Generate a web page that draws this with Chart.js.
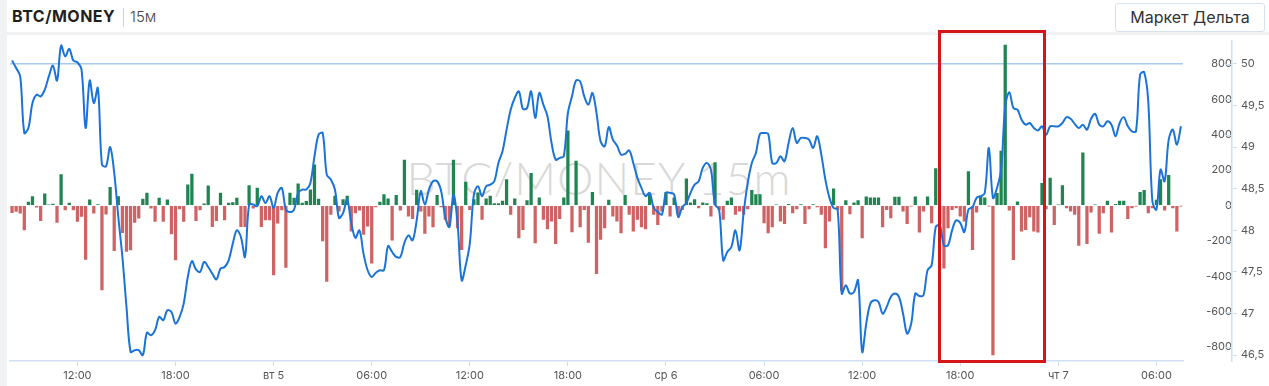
<!DOCTYPE html>
<html lang="ru">
<head>
<meta charset="utf-8">
<title>BTC/MONEY 15м — Маркет Дельта</title>
<script src="https://cdn.jsdelivr.net/npm/chart.js@4.4.1/dist/chart.umd.min.js"></script>
<style>
  html, body { margin: 0; padding: 0; background: #fff; }
  body { width: 1269px; height: 386px; position: relative; overflow: hidden; font-family: Inter, "Open Sans", sans-serif; }
  .strip { position: absolute; left: 0; top: 0; width: 7px; height: 386px; background: #f1f2f4; }
  .header { position: absolute; left: 7px; top: 0; right: 0; height: 32px; border-bottom: 3px solid #f0f1f3; }
  .title { position: absolute; left: 5px; top: 6px; font-size: 16px; font-weight: 700; color: #1f1f1f; letter-spacing: .5px; }
  .sep { position: absolute; left: 116px; top: 8px; width: 1px; height: 19px; background: #cfcfcf; }
  .tf { position: absolute; left: 123px; top: 7px; font-size: 15px; font-weight: 300; color: #444; }
  .btn { position: absolute; left: 1115px; top: 3px; width: 150px; height: 29px; box-sizing: border-box; border: 1px solid #d3e2ee; border-radius: 3px; background: #fff; font-size: 16px; color: #333; text-align: center; line-height: 27px; }
  .wm { position: absolute; left: 402px; top: 150px; width: 394px; text-align: center; font-family: Lato, sans-serif; font-weight: 300; font-size: 46px; letter-spacing: 1px; color: #d9d9d9; z-index: 0; white-space: nowrap; }
  #wrap { position: absolute; left: 0; top: 18px; width: 1269px; height: 368px; z-index: 1; }
  .box { position: absolute; left: 938px; top: 30px; width: 108px; height: 333px; box-sizing: border-box; border: 3px solid #d4161a; z-index: 2; }
</style>
</head>
<body>
<div class="strip"></div>
<div class="header">
  <div class="title">BTC/MONEY</div>
  <div class="sep"></div>
  <div class="tf">15м</div>
</div>
<div class="btn">Маркет Дельта</div>
<div class="wm">BTC/MONEY 15m</div>
<div id="wrap"><canvas id="chart" width="1269" height="368"></canvas></div>
<div class="box"></div>

<script>
// —— данные: 15-минутные свечи, с 08:00 пн 4 до 07:30 чт 7 ——
const startHour = 8;
const stepMinutes = 15;
const dayLabels = ['пн 4', 'вт 5', 'ср 6', 'чт 7'];

// дельта (столбики), по одной на свечу
const deltaValues = [
  -40, -34, -43, -138, 19, 51, -9, -85, 66, 4, 8, -96, 174, -25, 13, -25, -90, -62, -304, 32,
  -43, 5, -477, -49, 102, -255, 51, -153, -260, -251, -96, -72, 36, 70, -15, -90, 42, -90, 32, -160,
  -307, -19, -90, 117, 177, -85, -25, 9, 111, -119, -85, 70, -81, 13, 17, 42, -119, -119, 113, -15,
  98, -119, -81, -81, -392, -100, -25, -349, 70, 42, 123, 13, 23, 89, 230, 36, -200, -428, -50, 53,
  -32, 34, 53, -145, -42, -26, -164, -117, -326, -8, 19, 62, 38, -196, 57, -26, 257, -60, -74, 87,
  -32, -158, -60, -121, 57, -8, -79, -117, 257, -126, -249, 132, -23, 34, 72, -79, 38, 53, 11, 11,
  25, 147, -51, 38, -183, -136, 28, 181, -211, 43, -79, -132, -89, -215, -75, 43, 421, -149, 251, -121,
  -23, -208, 75, -385, -192, -126, 30, -60, -89, -155, 57, -51, -145, -79, -121, -132, 62, -51, -108, -32,
  75, -60, 43, -51, -23, 151, 15, 34, -13, 15, 11, -60, 242, -23, -79, 25, 43, -51, -32, -51,
  -19, 85, 62, 62, -98, -155, -121, 4, -89, -102, 6, -42, -19, 5, -102, -19, 5, -8, -51, -240,
  -89, 94, -23, -480, 28, -47, 15, 28, -183, 49, 43, 43, 43, -121, -23, -70, 47, 47, -32, -102,
  -4, 49, -151, -32, 49, -98, 208, -102, -354, -126, -23, -13, -60, -89, 191, -249, -38, 53, 43, -4,
  -843, 68, 307, 906, -26, -306, 21, -145, -136, -64, -145, -151, 125, -20, 155, -108, 4, 113, -13, -32,
  -51, -226, 298, -215, -38, 4, -158, -42, 25, -151, 6, 25, 25, -75, -13, -4, 75, 85, -42, -13,
  30, 147, -26, 170, -13, -145, -4
];

// цена (линия)
const priceValues = [
  50.04, 49.95, 49.85, 49.17, 49.23, 49.53, 49.63, 49.61, 49.69, 49.85, 49.98, 49.80, 50.22, 50.09, 50.18, 50.04, 50.02, 49.93, 49.23, 49.80,
  49.53, 49.71, 48.79, 48.77, 49.00, 48.69, 48.16, 47.68, 47.08, 46.54, 46.56, 46.56, 46.50, 46.77, 46.74, 46.80, 46.96, 46.92, 47.04, 47.02,
  46.88, 46.96, 47.12, 47.44, 47.63, 47.53, 47.50, 47.62, 47.56, 47.48, 47.41, 47.54, 47.56, 47.64, 47.84, 48.00, 47.92, 47.68, 48.31, 48.31,
  48.29, 48.41, 48.33, 48.41, 48.27, 48.45, 48.51, 48.25, 48.22, 48.25, 48.45, 48.49, 48.49, 48.57, 48.89, 49.15, 49.17, 48.67, 48.61, 48.49,
  48.15, 48.21, 48.37, 48.09, 47.91, 48.00, 47.72, 47.52, 47.44, 47.49, 47.52, 47.52, 47.81, 47.74, 47.68, 47.68, 47.85, 47.94, 47.88, 48.12,
  48.47, 48.31, 48.49, 48.59, 48.59, 48.47, 48.16, 48.04, 48.43, 48.09, 47.40, 47.58, 47.84, 48.43, 48.53, 48.41, 48.53, 48.55, 48.59, 48.81,
  48.95, 49.21, 49.45, 49.59, 49.67, 49.46, 49.47, 49.67, 49.35, 49.65, 49.51, 49.37, 49.05, 48.85, 48.87, 48.89, 49.41, 49.61, 49.80, 49.79,
  49.61, 49.51, 49.65, 49.41, 49.07, 49.01, 49.24, 49.09, 49.02, 48.91, 48.92, 48.96, 48.81, 48.63, 48.51, 48.41, 48.45, 48.27, 48.22, 48.19,
  48.45, 48.45, 48.43, 48.16, 48.28, 48.33, 48.45, 48.55, 48.59, 48.75, 48.81, 48.73, 48.31, 48.25, 47.64, 47.74, 47.80, 48.00, 47.76, 48.21,
  48.57, 48.81, 48.93, 49.16, 49.17, 49.16, 48.81, 48.81, 48.89, 48.83, 49.05, 49.23, 49.05, 49.11, 49.11, 49.09, 48.99, 49.13, 48.91, 48.61,
  48.39, 48.27, 48.25, 47.24, 47.34, 47.24, 47.26, 47.40, 46.54, 46.88, 47.12, 47.16, 47.14, 47.00, 47.08, 47.20, 47.24, 47.20, 47.00, 46.76,
  46.88, 47.24, 47.21, 47.22, 47.52, 47.58, 48.04, 48.06, 47.82, 47.82, 48.00, 48.12, 48.09, 47.98, 48.25, 48.28, 48.39, 48.41, 48.45, 48.99,
  48.39, 48.51, 48.73, 49.49, 49.66, 49.47, 49.45, 49.33, 49.27, 49.29, 49.23, 49.20, 49.25, 49.15, 49.25, 49.25, 49.25, 49.29, 49.36, 49.34,
  49.28, 49.23, 49.27, 49.21, 49.34, 49.40, 49.27, 49.25, 49.31, 49.27, 49.13, 49.29, 49.36, 49.25, 49.19, 49.19, 49.87, 49.90, 49.55, 48.35,
  48.25, 48.73, 48.59, 49.09, 49.21, 49.03, 49.25
];

// подписи осей
const xTickEvery = 24;          // каждые 6 часов
const xFirstTick = 16;          // 12:00 пн
const deltaTicks = [-800, -600, -400, -200, 0, 200, 400, 600, 800];
const priceTicks = [46.5, 47, 47.5, 48, 48.5, 49, 49.5, 50];
const levelValue = 800;         // горизонтальный уровень

const deltaMin = -878, deltaMax = 931;
const priceMin = 46.43, priceMax = 50.28;

const GREEN = '#1f8450';
const RED = '#cf6363';
const AXIS = '#cfe1f1';

// категории: время свечи, полночь = день недели
const categories = deltaValues.map((_, i) => {
  const total = startHour * 60 + i * stepMinutes;
  const day = Math.floor(total / 1440);
  const h = Math.floor((total % 1440) / 60);
  const m = total % 60;
  if (h === 0 && m === 0) return dayLabels[day];
  return String(h).padStart(2, '0') + ':' + String(m).padStart(2, '0');
});

// маленькие засечки слева от оси цены для шкалы дельты
const deltaTickMarks = {
  id: 'deltaTickMarks',
  afterDraw(chart) {
    const s = chart.scales.y;
    const c = chart.ctx;
    c.save();
    c.strokeStyle = AXIS;
    c.lineWidth = 1;
    deltaTicks.forEach(v => {
      const y = Math.round(s.getPixelForValue(v)) + 0.5;
      c.beginPath();
      c.moveTo(s.right - 6, y);
      c.lineTo(s.right, y);
      c.stroke();
    });
    c.restore();
  }
};

Chart.defaults.font.family = "Inter, 'Open Sans', sans-serif";
Chart.defaults.font.size = 11;
Chart.defaults.color = '#555';

new Chart(document.getElementById('chart'), {
  data: {
    labels: categories,
    datasets: [
      {
        type: 'line',
        label: 'Цена',
        data: priceValues,
        yAxisID: 'y1',
        borderColor: '#1a74d8',
        borderWidth: 2,
        pointRadius: 0,
        tension: 0.35,
        order: 0
      },
      {
        type: 'bar',
        label: 'Дельта',
        data: deltaValues,
        yAxisID: 'y',
        backgroundColor: deltaValues.map(v => v >= 0 ? GREEN : RED),
        barThickness: 2.6,
        order: 1
      }
    ]
  },
  options: {
    responsive: false,
    animation: false,
    layout: { padding: { left: 10, top: 0, right: 0, bottom: 0 } },
    plugins: { legend: { display: false }, tooltip: { enabled: false } },
    scales: {
      x: {
        offset: true,
        grid: { offset: false, drawOnChartArea: false, drawTicks: true, tickLength: 5, color: AXIS },
        border: { color: AXIS, width: 1.5 },
        ticks: { autoSkip: false, maxRotation: 0, padding: 3 },
        afterBuildTicks: s => {
          s.ticks = s.ticks.filter(t => t.value >= xFirstTick && (t.value - xFirstTick) % xTickEvery === 0);
        },
        afterFit: s => { s.height = 25; }
      },
      y: {
        position: 'right',
        min: deltaMin,
        max: deltaMax,
        afterBuildTicks: s => { s.ticks = deltaTicks.map(v => ({ value: v })); },
        grid: {
          drawTicks: false,
          lineWidth: 1.5,
          color: c => (c.tick && c.tick.value === levelValue) ? '#a6cbee' : 'rgba(0,0,0,0)'
        },
        border: { display: false },
        ticks: { crossAlign: 'far', padding: 16 },
        afterFit: s => { s.width = 49; }
      },
      y1: {
        position: 'right',
        min: priceMin,
        max: priceMax,
        afterBuildTicks: s => { s.ticks = priceTicks.map(v => ({ value: v })); },
        grid: { drawOnChartArea: false, tickLength: 5, color: AXIS },
        border: { color: AXIS, width: 1.5 },
        ticks: { padding: 4, callback: v => String(v).replace('.', ',') },
        afterFit: s => { s.width = 37; }
      }
    }
  },
  plugins: [deltaTickMarks]
});
</script>
</body>
</html>
